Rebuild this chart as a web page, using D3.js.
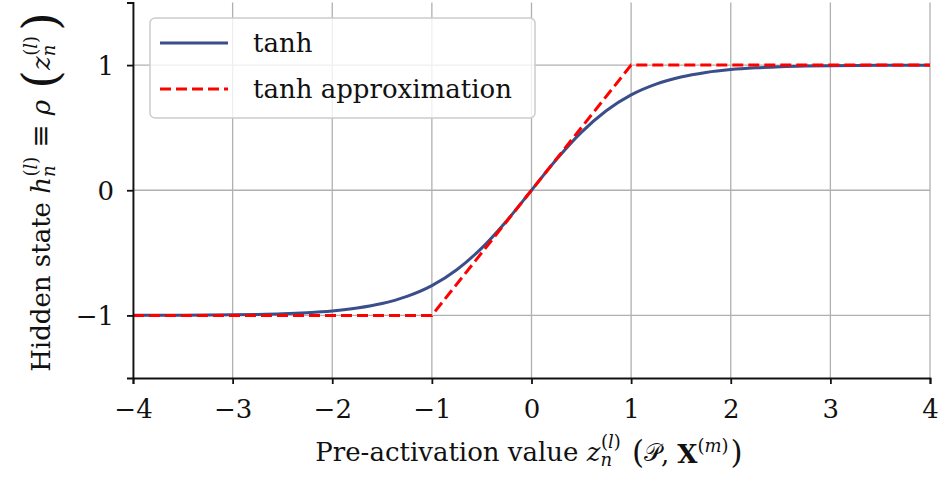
<!DOCTYPE html>
<html>
<head>
<meta charset="utf-8">
<script src="https://cdn.jsdelivr.net/npm/d3@7"></script>
<style>
	body { margin: 0; background: #fff; }
	svg text { font-family: "DejaVu Serif", serif; fill: #111; }
</style>
</head>
<body>
<div id="chart"></div>
<script>
let WIDTH = 939;
let HEIGHT = 480;
let MARGIN = { top: 2.5, right: 9, bottom: 102, left: 133 };
let FONT = 26;
let SMALL = 18;

// values
let tanhX = [-4, -3.5, -3, -2.75, -2.5, -2.25, -2, -1.75, -1.5, -1.25, -1, -0.75, -0.5, -0.25,
	0, 0.25, 0.5, 0.75, 1, 1.25, 1.5, 1.75, 2, 2.25, 2.5, 2.75, 3, 3.5, 4];
let tanhY = [-0.999, -0.998, -0.995, -0.992, -0.987, -0.978, -0.964, -0.941, -0.905, -0.848, -0.762, -0.635, -0.462, -0.245,
	0, 0.245, 0.462, 0.635, 0.762, 0.848, 0.905, 0.941, 0.964, 0.978, 0.987, 0.992, 0.995, 0.998, 0.999];
let approxX = [-4, -1, 1, 4];
let approxY = [-1, -1, 1, 1];

let xTicks = [-4, -3, -2, -1, 0, 1, 2, 3, 4];
let yTicks = [-1, 0, 1];
let seriesNames = ["tanh", "tanh approximation"];

let BLUE = "#3a4e8a";
let RED = "#ff0000";

let svg = d3.select("#chart").append("svg").
	attr("width", WIDTH).
	attr("height", HEIGHT);

let x = d3.scaleLinear().domain([-4, 4]).range([MARGIN.left, WIDTH - MARGIN.right]);
let y = d3.scaleLinear().domain([-1.5, 1.5]).range([HEIGHT - MARGIN.bottom, MARGIN.top]);

let fmt = d => d < 0 ? "\u2212" + Math.abs(d) : String(d);

// grid
let grid = svg.append("g").attr("stroke", "#b0b0b0").attr("stroke-width", 1.3);
grid.selectAll("line.gx").data(xTicks).join("line").
	attr("x1", d => x(d)).attr("x2", d => x(d)).
	attr("y1", y(-1.5)).attr("y2", y(1.5));
grid.selectAll("line.gy").data(yTicks).join("line").
	attr("y1", d => y(d)).attr("y2", d => y(d)).
	attr("x1", x(-4)).attr("x2", x(4));

// lines
let tanhData = tanhX.map((v, i) => [v, tanhY[i]]);
let approxData = approxX.map((v, i) => [v, approxY[i]]);

svg.append("path").
	datum(tanhData).
	attr("fill", "none").
	attr("stroke", BLUE).
	attr("stroke-width", 3).
	attr("d", d3.line().x(d => x(d[0])).y(d => y(d[1])).curve(d3.curveMonotoneX));

svg.append("path").
	datum(approxData).
	attr("fill", "none").
	attr("stroke", RED).
	attr("stroke-width", 3).
	attr("stroke-dasharray", "11,5").
	attr("d", d3.line().x(d => x(d[0])).y(d => y(d[1])));

// axes
let xAxis = svg.append("g").
	attr("transform", `translate(0,${y(-1.5)})`).
	call(d3.axisBottom(x).tickValues(xTicks).tickFormat(fmt).tickSizeOuter(0).tickSize(6));
let yAxis = svg.append("g").
	attr("transform", `translate(${x(-4)},0)`).
	call(d3.axisLeft(y).tickValues(yTicks).tickFormat(fmt).tickSizeOuter(0).tickSize(6));

[xAxis, yAxis].forEach(a => {
	a.attr("font-family", null);
	a.select(".domain").attr("stroke", "#111").attr("stroke-width", 1.8);
	a.selectAll(".tick line").attr("stroke", "#111").attr("stroke-width", 1.8);
	a.selectAll(".tick text").
		attr("font-size", FONT).
		attr("fill", "#111");
});
xAxis.selectAll(".tick text").attr("y", 40).attr("dy", 0);
yAxis.selectAll(".tick text").attr("x", -19).attr("dy", "0.36em");

// small helper for math-ish labels: [text, {italic, size, dy, dx, bold}]
function addParts(sel, parts) {
	parts.forEach(([t, o]) => {
		o = o || {};
		let ts = sel.append("tspan").text(t);
		if(o.italic) ts.attr("font-style", "italic");
		if(o.bold) ts.attr("font-weight", "bold");
		if(o.size) ts.attr("font-size", o.size);
		if(o.dy) ts.attr("dy", o.dy);
		if(o.dx) ts.attr("dx", o.dx);
	});
}

// x label
let xl = svg.append("text").
	attr("x", 529).
	attr("y", 461).
	attr("text-anchor", "middle").
	attr("font-size", FONT);
addParts(xl, [
	["Pre-activation value "],
	["z", { italic: true }],
	["n", { italic: true, size: SMALL, dy: 5 }],
	["(", { size: SMALL, dx: -11, dy: -18 }],
	["l", { size: SMALL, italic: true }],
	[")", { size: SMALL }],
	["(", { size: 31, dx: 11, dy: 15 }],
	["\ud835\udcab", { size: 24, dy: -2 }],
	[",", { dy: 2 }],
	["X", { bold: true, dx: 8 }],
	["(", { size: SMALL, dy: -11 }],
	["m", { size: SMALL, italic: true }],
	[")", { size: SMALL }],
	[")", { size: 31, dy: 11, dx: 2 }]
]);

// y label
let yl = svg.append("text").
	attr("transform", "translate(50,192) rotate(-90)").
	attr("text-anchor", "middle").
	attr("font-size", FONT);
addParts(yl, [
	["Hidden state "],
	["h", { italic: true }],
	["n", { italic: true, size: SMALL, dy: 5 }],
	["(", { size: SMALL, dx: -11, dy: -18 }],
	["l", { size: SMALL, italic: true }],
	[")", { size: SMALL }],
	[" \u2261 ", { dy: 13, size: 28 }],
	["\u03c1 ", { italic: true }],
	["(", { size: 48, dy: 7, dx: 3 }],
	["z", { italic: true, dy: -7 }],
	["n", { italic: true, size: SMALL, dy: 5 }],
	["(", { size: SMALL, dx: -11, dy: -18 }],
	["l", { size: SMALL, italic: true }],
	[")", { size: SMALL }],
	[")", { size: 48, dy: 20, dx: 5 }]
]);

// legend
let legend = svg.append("g").attr("transform", "translate(150,18)");
legend.append("rect").
	attr("width", 385).
	attr("height", 100).
	attr("rx", 5).
	attr("fill", "rgba(255,255,255,0.8)").
	attr("stroke", "#cccccc").
	attr("stroke-width", 1.5);

let legendItems = legend.selectAll("g.item").
	data(seriesNames).
	join("g").
	attr("class", "item").
	attr("transform", (d, i) => `translate(0,${25 + i * 46})`);

legendItems.append("line").
	attr("x1", 10).
	attr("x2", 78).
	attr("stroke", (d, i) => i === 0 ? BLUE : RED).
	attr("stroke-width", 3).
	attr("stroke-dasharray", (d, i) => i === 0 ? null : "11,5");

legendItems.append("text").
	attr("x", 103).
	attr("y", 9).
	attr("font-size", FONT).
	text(d => d);
</script>
</body>
</html>
